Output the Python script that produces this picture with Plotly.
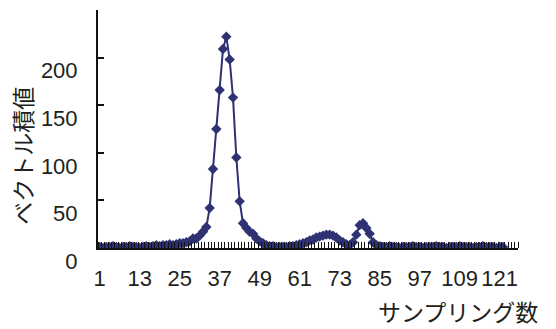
import plotly.graph_objects as go

# ---- data ----
samples = list(range(1, 123))
values = [
    1, 0, 1, 1, 2, 1, 0, 1, 1, 2, 1, 1, 0, 1,            # 1-14
    2, 1, 2, 3, 2, 3, 3, 4, 3, 4, 5, 5, 6, 7, 10,         # 15-29
    10, 13, 17, 22, 42, 83, 125, 166, 209, 222,           # 30-39
    198, 158, 95, 49, 26, 21, 17, 15, 10, 7,              # 40-49
    5, 3, 2, 2, 1, 1, 1, 1, 2, 2,                         # 50-59
    3, 4, 5, 6, 8, 9, 11, 12, 13, 14,                     # 60-69
    14, 13, 11, 8, 6, 4, 3, 6, 14, 24,                    # 70-79
    26, 21, 15, 6, 3, 2, 1, 1, 2, 1,                      # 80-89
    1, 0, 1, 1, 1, 2, 1, 1, 0, 1,                         # 90-99
    1, 1, 2, 1, 1, 0, 1, 1, 1, 2,                         # 100-109
    1, 1, 1, 0, 1, 1, 2, 1, 1, 1, 0, 1, 1,                # 110-122
]
values = values[:len(samples)]
x_tick_vals = [1, 13, 25, 37, 49, 61, 73, 85, 97, 109, 121]
x_tick_text = ["1", "13", "25", "37", "49", "61", "73", "85", "97", "109", "121"]
y_tick_vals = [0, 50, 100, 150, 200, 250]
y_tick_text = ["0", "50", "100", "150", "200", ""]
x_title = "サンプリング数"
y_title = "ベクトル積値"

FONT = "Liberation Sans, Arial, Noto Sans CJK JP, sans-serif"
JFONT = "Noto Sans CJK JP, Liberation Sans, sans-serif"
TXT = "#231f20"
LINE = "#2E3172"

fig = go.Figure()
fig.add_trace(go.Scatter(
    x=samples, y=values, mode="lines+markers",
    line=dict(color=LINE, width=2),
    marker=dict(symbol="diamond", size=8, color=LINE),
    showlegend=False,
))

fig.update_layout(
    width=556, height=329,
    margin=dict(l=98, r=38, t=10, b=81),
    paper_bgcolor="white", plot_bgcolor="white",
    font=dict(family=FONT, size=22, color=TXT),
    xaxis=dict(
        range=[0.5, 126.5], showgrid=False, zeroline=False, automargin=False,
        showline=True, linecolor="#111", linewidth=2,
        tickmode="array", tickvals=x_tick_vals, ticktext=x_tick_text,
        ticks="", ticklabelstandoff=10,
        minor=dict(ticks="inside", ticklen=6, tickwidth=1, tickcolor="#111",
                   tickmode="linear", tick0=0.5, dtick=1, showgrid=False),
        tickfont=dict(family=FONT, size=22, color=TXT),
    ),
    yaxis=dict(
        range=[0, 250], showgrid=False, zeroline=False, automargin=False,
        showline=True, linecolor="#111", linewidth=2,
        tickmode="array", tickvals=y_tick_vals, ticktext=y_tick_text,
        ticks="inside", ticklen=6, tickwidth=2, tickcolor="#111",
        ticklabelstandoff=14, ticklabelshift=13,
        tickfont=dict(family=FONT, size=22, color=TXT),
    ),
    annotations=[
        dict(text=x_title, xref="paper", yref="paper", x=1.052, y=-0.265,
             xanchor="right", yanchor="middle", showarrow=False,
             font=dict(family=JFONT, size=23, color=TXT)),
        dict(text=y_title, xref="paper", yref="paper", x=-0.181, y=0.387,
             xanchor="center", yanchor="middle", textangle=-90, showarrow=False,
             font=dict(family=JFONT, size=23, color=TXT)),
    ],
)

fig.write_html("out.html",
               config={"displayModeBar": False},
               post_script="document.body.style.margin='0';document.body.style.overflow='hidden';")
